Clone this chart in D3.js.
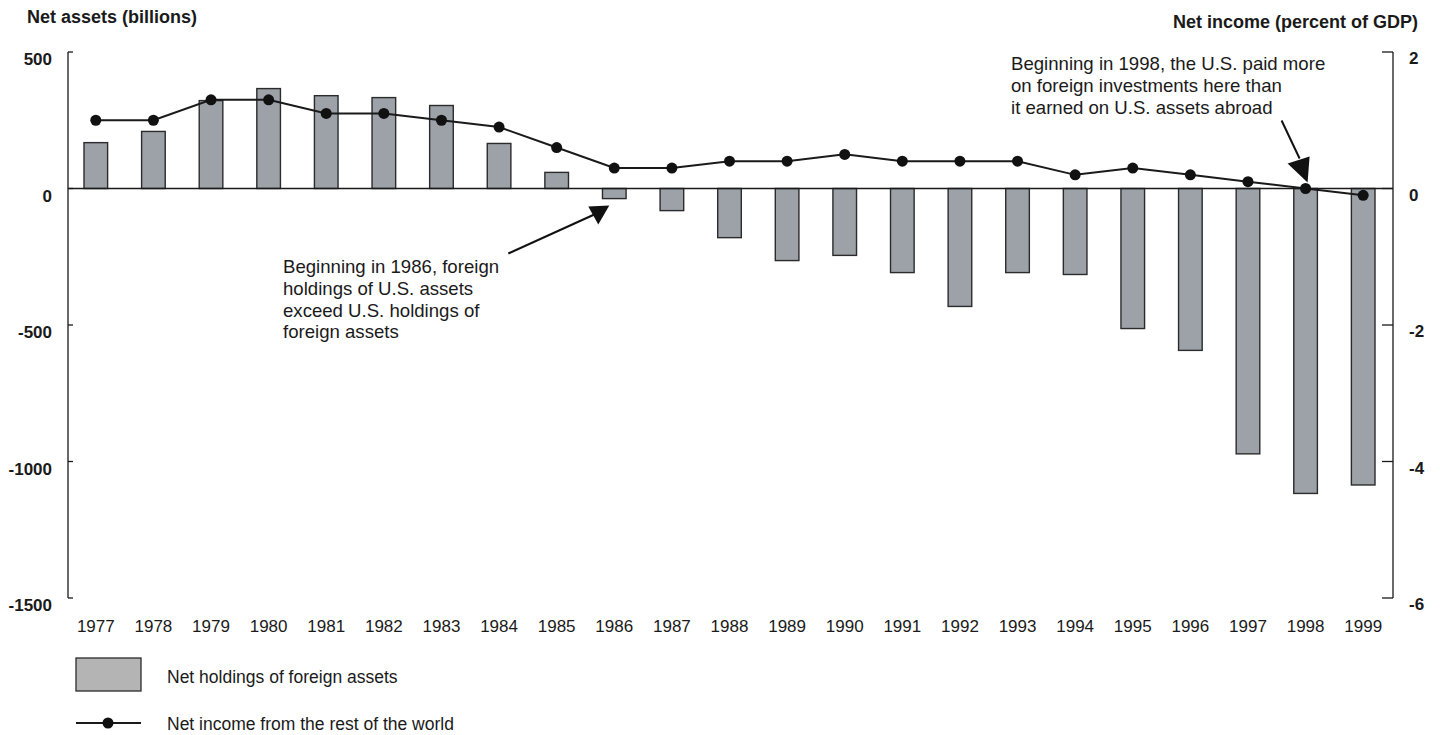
<!DOCTYPE html>
<html>
<head>
<meta charset="utf-8">
<script src="https://cdn.jsdelivr.net/npm/d3@7"></script>
<style>
  html, body { margin: 0; padding: 0; background: #fff; }
  svg { display: block; font-family: "Liberation Sans", Arial, Helvetica, sans-serif; }
  text { fill: #1a1a1a; }
</style>
</head>
<body>
<svg id="chart" width="1440" height="735"></svg>
<script>
// Data
const years = ['1977','1978','1979','1980','1981','1982','1983','1984','1985','1986','1987','1988',
               '1989','1990','1991','1992','1993','1994','1995','1996','1997','1998','1999'];
// Net holdings of foreign assets (billions)
const netAssets = [168, 209, 322, 366, 340, 333, 304, 165, 59, -37, -81, -180,
                   -264, -245, -308, -432, -308, -315, -513, -593, -972, -1117, -1086];
// Net income from the rest of the world (percent of GDP)
const netIncome = [1.0, 1.0, 1.3, 1.3, 1.1, 1.1, 1.0, 0.9, 0.6, 0.3, 0.3, 0.4,
                   0.4, 0.5, 0.4, 0.4, 0.4, 0.2, 0.3, 0.2, 0.1, 0.0, -0.1];
const leftTicks = [500, 0, -500, -1000, -1500];
const rightTicks = [2, 0, -2, -4, -6];
const legendLabels = ['Net holdings of foreign assets', 'Net income from the rest of the world'];
const note1986 = ['Beginning in 1986, foreign', 'holdings of U.S. assets', 'exceed U.S. holdings of', 'foreign assets'];
const note1998 = ['Beginning in 1998, the U.S. paid more', 'on foreign investments here than', 'it earned on U.S. assets abroad'];

const svg = d3.select('#chart');
const plotL = 68, plotR = 1393, plotT = 52, plotB = 598;

const x = d3.scaleBand()
  .domain(years)
  .range([plotL - 1, plotR - 1])
  .paddingInner(0.59)
  .paddingOuter(0.295);
const yL = d3.scaleLinear().domain([-1500, 500]).range([plotB, plotT]);
const yR = d3.scaleLinear().domain([-6, 2]).range([plotB, plotT]);
const cx = d => x(d) + x.bandwidth() / 2;

// Bars
svg.append('g').selectAll('rect')
  .data(years)
  .join('rect')
    .attr('x', d => x(d))
    .attr('width', x.bandwidth())
    .attr('y', (d, i) => yL(Math.max(0, netAssets[i])))
    .attr('height', (d, i) => Math.abs(yL(netAssets[i]) - yL(0)))
    .attr('fill', '#9ca2a8')
    .attr('stroke', '#2b2b2b')
    .attr('stroke-width', 1.4);

// Zero line
svg.append('line')
  .attr('x1', plotL).attr('x2', plotR)
  .attr('y1', yL(0)).attr('y2', yL(0))
  .attr('stroke', '#1a1a1a').attr('stroke-width', 1.5);

// Left axis
svg.append('line')
  .attr('x1', plotL).attr('x2', plotL).attr('y1', plotT).attr('y2', plotB)
  .attr('stroke', '#1a1a1a').attr('stroke-width', 1.3);
svg.append('g').selectAll('line')
  .data(leftTicks)
  .join('line')
    .attr('x1', plotL).attr('x2', plotL + 5)
    .attr('y1', d => yL(d)).attr('y2', d => yL(d))
    .attr('stroke', '#1a1a1a').attr('stroke-width', 1.3);
svg.append('g').selectAll('text')
  .data(leftTicks)
  .join('text')
    .attr('x', 52)
    .attr('y', d => yL(d) + 13)
    .attr('text-anchor', 'end')
    .attr('font-size', 17).attr('font-weight', 'bold')
    .text(d => d);

// Right axis
svg.append('line')
  .attr('x1', plotR).attr('x2', plotR).attr('y1', plotT).attr('y2', plotB)
  .attr('stroke', '#1a1a1a').attr('stroke-width', 1.3);
svg.append('g').selectAll('line')
  .data(rightTicks)
  .join('line')
    .attr('x1', plotR - 11).attr('x2', plotR)
    .attr('y1', d => yR(d)).attr('y2', d => yR(d))
    .attr('stroke', '#1a1a1a').attr('stroke-width', 1.3);
svg.append('g').selectAll('text')
  .data(rightTicks)
  .join('text')
    .attr('x', 1409)
    .attr('y', d => yR(d) + 12)
    .attr('font-size', 17).attr('font-weight', 'bold')
    .text(d => d);

// Axis titles
svg.append('text')
  .attr('x', 27).attr('y', 23)
  .attr('font-size', 18).attr('font-weight', 'bold')
  .text('Net assets (billions)');
svg.append('text')
  .attr('x', 1418).attr('y', 28)
  .attr('text-anchor', 'end')
  .attr('font-size', 18).attr('font-weight', 'bold')
  .text('Net income (percent of GDP)');

// Year labels
svg.append('g').selectAll('text')
  .data(years)
  .join('text')
    .attr('x', d => cx(d))
    .attr('y', 632)
    .attr('text-anchor', 'middle')
    .attr('font-size', 17)
    .text(d => d);

// Income line + dots
const line = d3.line()
  .x((d, i) => cx(years[i]))
  .y(d => yR(d));
svg.append('path')
  .datum(netIncome)
  .attr('d', line)
  .attr('fill', 'none')
  .attr('stroke', '#1a1a1a')
  .attr('stroke-width', 2);
svg.append('g').selectAll('circle')
  .data(netIncome)
  .join('circle')
    .attr('cx', (d, i) => cx(years[i]))
    .attr('cy', d => yR(d))
    .attr('r', 5.5)
    .attr('fill', '#111');

// Annotations
const noteText = (lines, x0, y0) => {
  svg.append('g').selectAll('text')
    .data(lines)
    .join('text')
      .attr('x', x0)
      .attr('y', (d, i) => y0 + i * 21.8)
      .attr('font-size', 18.6)
      .text(d => d);
};
noteText(note1986, 283, 273);
noteText(note1998, 1011, 70);

// arrow pointing at the 1986 bar
const a1x = cx('1986'), a1y = yL(0);
svg.append('line')
  .attr('x1', a1x - 106).attr('y1', a1y + 65)
  .attr('x2', a1x - 20).attr('y2', a1y + 26)
  .attr('stroke', '#111').attr('stroke-width', 2);
svg.append('path')
  .attr('d', `M${a1x - 26},${a1y + 18} L${a1x - 5},${a1y + 17} L${a1x - 16},${a1y + 36} Z`)
  .attr('fill', '#111');

// arrow pointing at the 1998 point
const a2x = cx('1998'), a2y = yR(0);
svg.append('line')
  .attr('x1', a2x - 24).attr('y1', a2y - 68)
  .attr('x2', a2x - 6).attr('y2', a2y - 30)
  .attr('stroke', '#111').attr('stroke-width', 2);
svg.append('path')
  .attr('d', `M${a2x - 18},${a2y - 25} L${a2x + 4},${a2y - 32} L${a2x + 2},${a2y - 6} Z`)
  .attr('fill', '#111');

// Legend
svg.append('rect')
  .attr('x', 76).attr('y', 658)
  .attr('width', 65).attr('height', 33)
  .attr('fill', '#b4b4b4')
  .attr('stroke', '#2b2b2b').attr('stroke-width', 1.3);
svg.append('line')
  .attr('x1', 76).attr('x2', 141).attr('y1', 723).attr('y2', 723)
  .attr('stroke', '#1a1a1a').attr('stroke-width', 2);
svg.append('circle')
  .attr('cx', 108).attr('cy', 723).attr('r', 5.5)
  .attr('fill', '#111');
svg.append('g').selectAll('text')
  .data(legendLabels)
  .join('text')
    .attr('x', 167)
    .attr('y', (d, i) => 683 + i * 47)
    .attr('font-size', 17.5)
    .text(d => d);
</script>
</body>
</html>
